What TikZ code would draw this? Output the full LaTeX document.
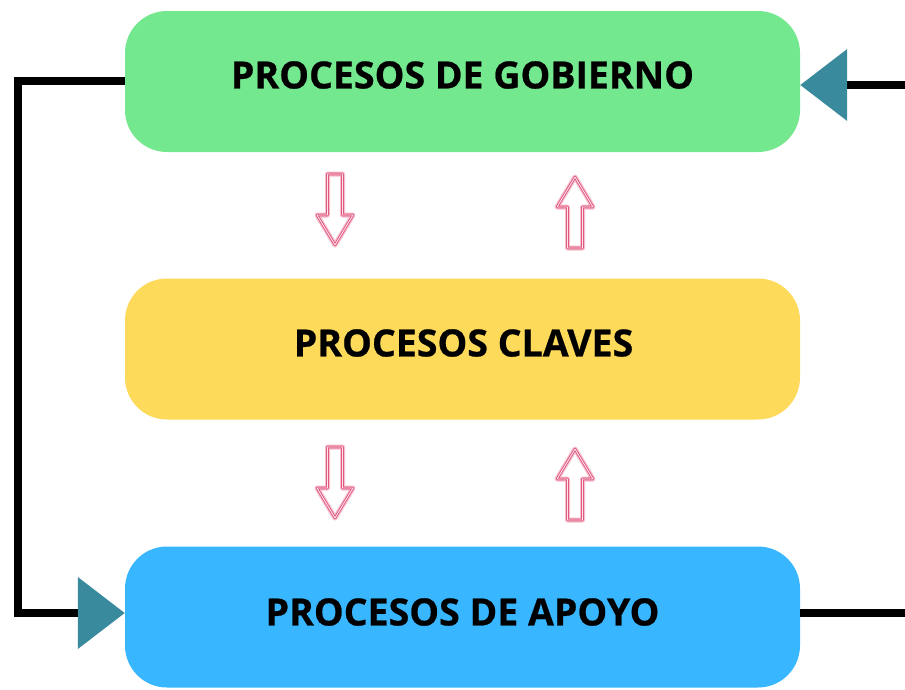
\documentclass[tikz,border=0pt]{standalone}
\usepackage{fontspec}
\setmainfont{Open Sans}[BoldFeatures={FakeBold=0.6}]
\usetikzlibrary{arrows.meta}
\definecolor{gobgreen}{HTML}{74E88F}
\definecolor{clavyellow}{HTML}{FEDA5B}
\definecolor{apoblue}{HTML}{38B6FF}
\definecolor{tealtip}{HTML}{3A8A9E}
\definecolor{neonpink}{HTML}{E0587F}
\definecolor{neonglow}{HTML}{F8BFCE}
\definecolor{neoncore}{HTML}{FCE6EC}
\tikzset{
  procbox/.style={rectangle, rounded corners=42pt, minimum width=675pt, minimum height=141pt, inner sep=0pt},
  proctext/.style={font=\fontsize{37.5}{40}\selectfont\bfseries, text=black, inner sep=0pt},
  loopline/.style={line width=8pt, draw=black, -{Triangle[length=47pt,width=70pt,fill=tealtip,color=tealtip]}},
  hollowdown/.pic={
    \path[draw=neonglow, line width=5pt, line join=round]
      (-7.5,0) -- (-7.5,41) -- (-18,41) -- (0,71) -- (18,41) -- (7.5,41) -- (7.5,0) -- cycle;
    \path[draw=neonpink, line width=2.6pt, line join=round]
      (-7.5,0) -- (-7.5,41) -- (-18,41) -- (0,71) -- (18,41) -- (7.5,41) -- (7.5,0) -- cycle;
    \path[draw=neoncore, line width=0.8pt, line join=round]
      (-7.5,0) -- (-7.5,41) -- (-18,41) -- (0,71) -- (18,41) -- (7.5,41) -- (7.5,0) -- cycle;
  }
}
\begin{document}
\begin{tikzpicture}[x=1pt, y=-1pt]
\useasboundingbox (0,0) rectangle (905,689);
\fill[white] (0,0) rectangle (905,689);
\begin{scope}
\clip (0,0) rectangle (905,689);

\node[procbox, fill=gobgreen] (gob) at (462.5,81.5) {};
\node[procbox, fill=clavyellow] (clav) at (462.5,349) {};
\node[procbox, fill=apoblue] (apo) at (462.5,617) {};

\node[proctext] (gobtext) at (462.5,75) {PROCESOS DE GOBIERNO};
\node[proctext] (clavtext) at (463.5,343) {PROCESOS CLAVES};
\node[proctext] (apotext) at (462.5,612) {PROCESOS DE APOYO};

\coordinate (lefttop) at (18,81);
\coordinate (leftbot) at (18,613);
\coordinate (rightbot) at (909,613);
\coordinate (righttop) at (909,85);

\draw[loopline] (gob.west |- lefttop) -- (lefttop) -- (leftbot) -- (apo.west |- leftbot);
\draw[loopline] (apo.east |- rightbot) -- (rightbot) -- (righttop) -- (gob.east |- righttop);

\pic at (335,174) {hollowdown};
\pic[rotate=180] at (575,248) {hollowdown};
\pic at (335,447) {hollowdown};
\pic[rotate=180] at (575,520) {hollowdown};
\end{scope}
\end{tikzpicture}
\end{document}
